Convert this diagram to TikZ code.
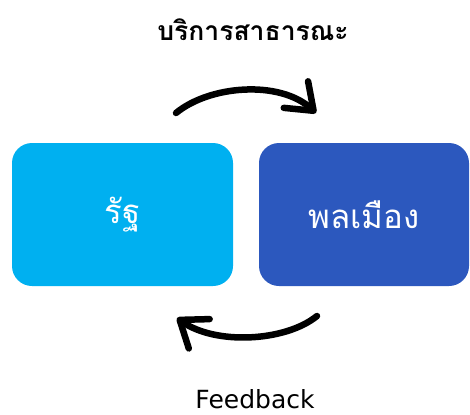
\documentclass[tikz,border=0pt]{standalone}
\usepackage{fontspec}
\usetikzlibrary{arrows.meta}
\newfontfamily\thaifont[Script=Thai]{Loma}
\newfontfamily\latinfont{DejaVu Sans}
\definecolor{boxA}{HTML}{00B0F0}
\definecolor{boxB}{HTML}{2C58BE}
\tikzset{
  boxnode/.style={rounded corners=20pt, minimum width=221pt, minimum height=143pt, inner sep=0pt, text=white, font=\thaifont\fontsize{33}{36}\selectfont},
  bigarrow/.style={line width=6.5pt, line cap=round, -{Straight Barb[length=24pt,width=36pt,round]}},
  labeltext/.style={inner sep=0pt, text=black}
}
\begin{document}
\begin{tikzpicture}[x=1pt,y=-1pt]
\useasboundingbox (0,0) rectangle (470,414);
\node[boxnode, fill=boxA] (rat) at (122.5,214.5) {รัฐ};
\node[boxnode, fill=boxB, minimum width=210pt] (pol) at (364,214.5) {พลเมือง};
\node[labeltext, font=\thaifont\bfseries\fontsize{26.5}{30}\selectfont] (top) at (253,30) {บริการสาธารณะ};
\node[labeltext, font=\latinfont\fontsize{25}{28}\selectfont, anchor=base] (bot) at (255,408) {Feedback};
\coordinate (a1) at (176,113);
\coordinate (a2) at (316,113);
\coordinate (b1) at (317,316);
\coordinate (b2) at (177,318);
\draw[bigarrow] (a1) .. controls (210,85) and (280,80) .. (a2);
\draw[bigarrow] (b1) .. controls (285,342) and (215,345) .. (b2);
\end{tikzpicture}
\end{document}
